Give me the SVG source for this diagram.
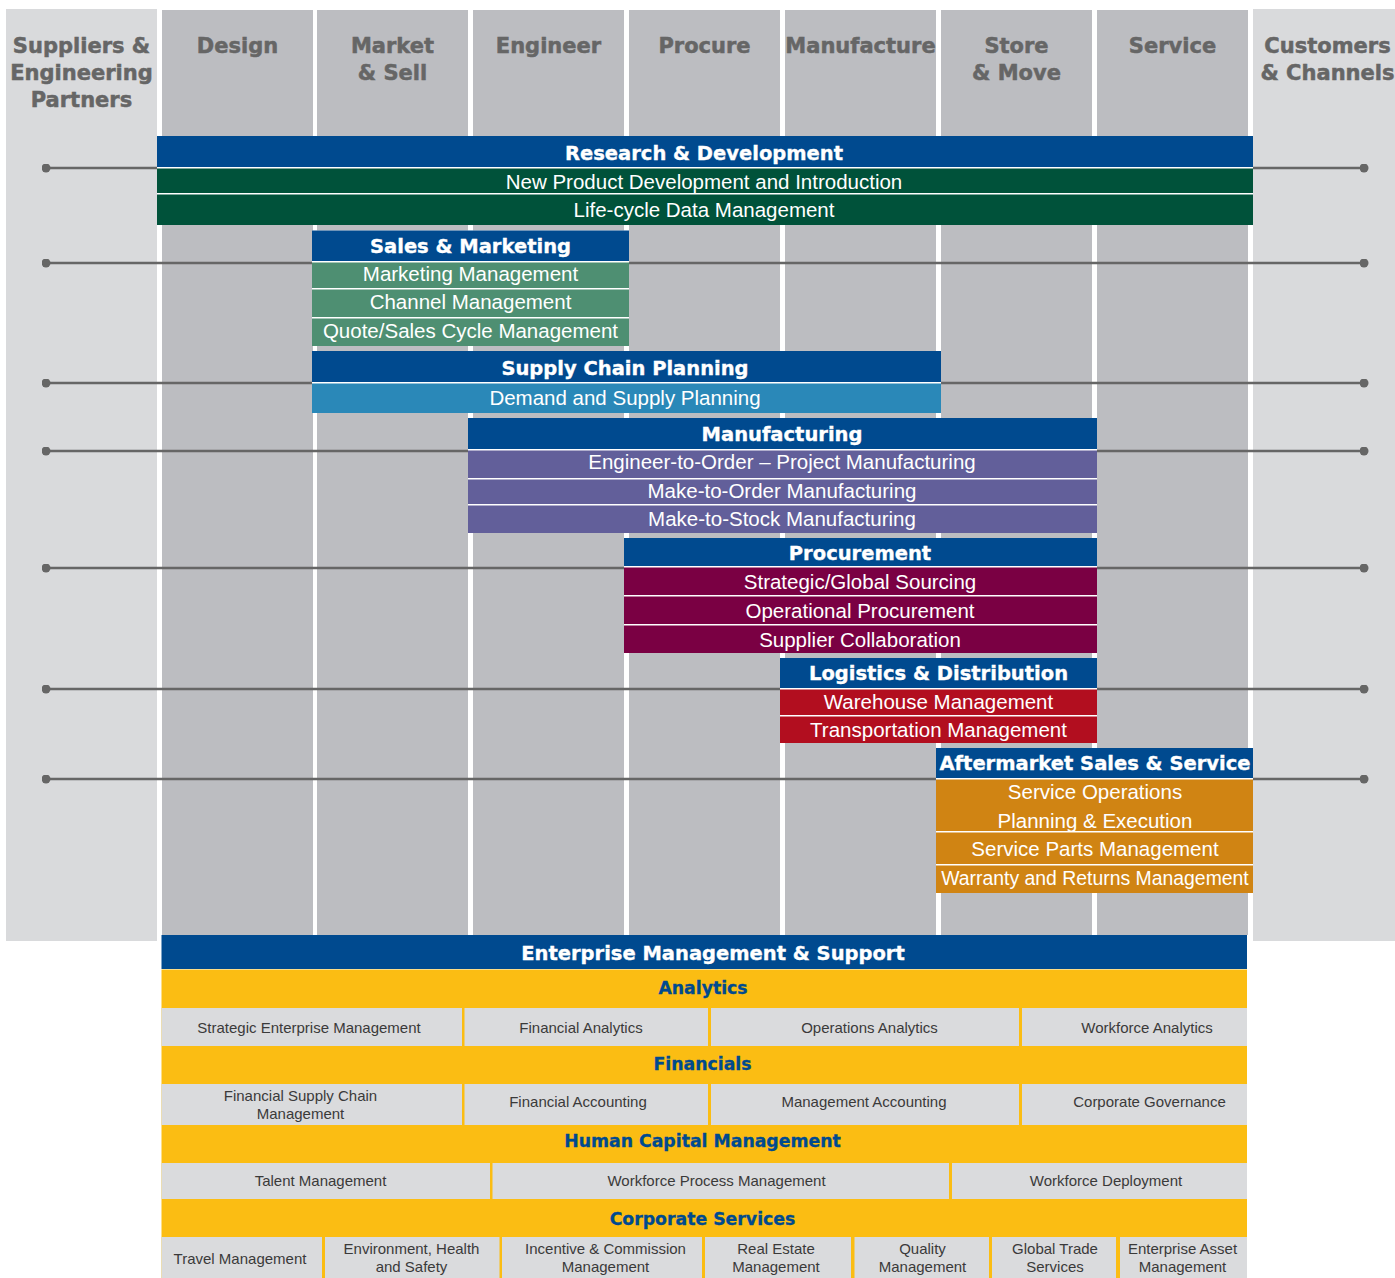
<svg xmlns="http://www.w3.org/2000/svg" width="1395" height="1278" viewBox="0 0 1395 1278">
<style>
.bg{fill:#ffffff}
.lcol{fill:#d9dadc}
.dcol{fill:#bcbdc1}
.colh{font-family:"DejaVu Sans",sans-serif;font-weight:bold;font-size:21px;fill:#666666;stroke:#666666;stroke-width:0.5;text-anchor:middle}
.hdr{fill:#004a8f}
.bh{font-family:"DejaVu Sans",sans-serif;font-weight:bold;font-size:19.5px;fill:#ffffff;stroke:#ffffff;stroke-width:0.35;text-anchor:middle}
.row{font-family:"Liberation Sans",Arial,sans-serif;font-size:20.5px;fill:#ffffff;text-anchor:middle}
.grn{fill:#00523a}
.sgrn{fill:#4e8f72}
.lblu{fill:#2a88b8}
.purp{fill:#625f9a}
.maro{fill:#7a0043}
.red{fill:#b20e1f}
.orng{fill:#d08413}
.yel{fill:#fbbd13}
.cellbg{fill:#dadbdd}
.yh{font-family:"DejaVu Sans",sans-serif;font-weight:bold;font-size:17.3px;fill:#004a8f;stroke:#004a8f;stroke-width:0.3;text-anchor:middle}
.cell{font-family:"Liberation Sans",Arial,sans-serif;font-size:15px;fill:#3a3a3a;text-anchor:middle}
.conn{stroke:#666666;stroke-width:2.6;fill:none;marker-start:url(#dot);marker-end:url(#dot)}
</style>
<defs>
<marker id="dot" viewBox="0 0 10 10" refX="5" refY="5" markerWidth="9" markerHeight="9" markerUnits="userSpaceOnUse"><circle cx="5" cy="5" r="5" fill="#666666"/></marker>
</defs>
<rect class="bg" x="0" y="0" width="1395" height="1278"/>

<g id="columns">
<g id="col-suppliers"><rect class="lcol" x="6" y="9" width="151" height="932"/>
<text class="colh" x="81.5" y="53">Suppliers &amp;</text><text class="colh" x="81.5" y="80">Engineering</text><text class="colh" x="81.5" y="107">Partners</text></g>
<g id="col-design"><rect class="dcol" x="162" y="10" width="151" height="925"/><text class="colh" x="237.5" y="53">Design</text></g>
<g id="col-market"><rect class="dcol" x="317" y="10" width="151" height="925"/><text class="colh" x="392.5" y="53">Market</text><text class="colh" x="392.5" y="80">&amp; Sell</text></g>
<g id="col-engineer"><rect class="dcol" x="473" y="10" width="151" height="925"/><text class="colh" x="548.5" y="53">Engineer</text></g>
<g id="col-procure"><rect class="dcol" x="629" y="10" width="151" height="925"/><text class="colh" x="704.5" y="53">Procure</text></g>
<g id="col-manufacture"><rect class="dcol" x="785" y="10" width="151" height="925"/><text class="colh" x="860.5" y="53">Manufacture</text></g>
<g id="col-store"><rect class="dcol" x="941" y="10" width="151" height="925"/><text class="colh" x="1016.5" y="53">Store</text><text class="colh" x="1016.5" y="80">&amp; Move</text></g>
<g id="col-service"><rect class="dcol" x="1097" y="10" width="151" height="925"/><text class="colh" x="1172.5" y="53">Service</text></g>
<g id="col-customers"><rect class="lcol" x="1253" y="9" width="142" height="932"/><text class="colh" x="1327.5" y="53">Customers</text><text class="colh" x="1327.5" y="80">&amp; Channels</text></g>
</g>

<g id="connectors">
<line class="conn" x1="46" y1="168" x2="1364" y2="168"/>
<line class="conn" x1="46" y1="263" x2="1364" y2="263"/>
<line class="conn" x1="46" y1="383" x2="1364" y2="383"/>
<line class="conn" x1="46" y1="451" x2="1364" y2="451"/>
<line class="conn" x1="46" y1="568" x2="1364" y2="568"/>
<line class="conn" x1="46" y1="689" x2="1364" y2="689"/>
<line class="conn" x1="46" y1="779" x2="1364" y2="779"/>
</g>

<g id="band-rd">
<rect class="bg" x="157" y="136" width="1096" height="89"/>
<rect class="hdr" x="157" y="136" width="1096" height="31"/>
<rect class="grn" x="157" y="168.5" width="1096" height="24.5"/>
<rect class="grn" x="157" y="194.5" width="1096" height="30.5"/>
<text class="bh" x="704" y="160">Research &amp; Development</text>
<text class="row" x="704" y="189">New Product Development and Introduction</text>
<text class="row" x="704" y="217">Life-cycle Data Management</text>
</g>

<g id="band-sales">
<rect class="bg" x="312" y="230.5" width="317" height="115.5"/>
<rect class="hdr" x="312" y="230.5" width="317" height="30.5"/>
<rect class="sgrn" x="312" y="262.5" width="317" height="25.5"/>
<rect class="sgrn" x="312" y="289.5" width="317" height="27.5"/>
<rect class="sgrn" x="312" y="318.5" width="317" height="27.5"/>
<text class="bh" x="470.5" y="253">Sales &amp; Marketing</text>
<text class="row" x="470.5" y="281">Marketing Management</text>
<text class="row" x="470.5" y="309">Channel Management</text>
<text class="row" x="470.5" y="338">Quote/Sales Cycle Management</text>
</g>

<g id="band-scp">
<rect class="bg" x="312" y="351" width="629" height="62"/>
<rect class="hdr" x="312" y="351" width="629" height="31"/>
<rect class="lblu" x="312" y="383.5" width="629" height="29.5"/>
<text class="bh" x="625" y="375">Supply Chain Planning</text>
<text class="row" x="625" y="405">Demand and Supply Planning</text>
</g>

<g id="band-mfg">
<rect class="bg" x="468" y="418" width="629" height="115"/>
<rect class="hdr" x="468" y="418" width="629" height="31"/>
<rect class="purp" x="468" y="450.5" width="629" height="27.5"/>
<rect class="purp" x="468" y="479.5" width="629" height="24.5"/>
<rect class="purp" x="468" y="505.5" width="629" height="27.5"/>
<text class="bh" x="782" y="441">Manufacturing</text>
<text class="row" x="782" y="469">Engineer-to-Order – Project Manufacturing</text>
<text class="row" x="782" y="497.5">Make-to-Order Manufacturing</text>
<text class="row" x="782" y="525.5">Make-to-Stock Manufacturing</text>
</g>

<g id="band-procurement">
<rect class="bg" x="624" y="538" width="473" height="115"/>
<rect class="hdr" x="624" y="538" width="473" height="28"/>
<rect class="maro" x="624" y="567.5" width="473" height="27.5"/>
<rect class="maro" x="624" y="596.5" width="473" height="27.5"/>
<rect class="maro" x="624" y="625.5" width="473" height="27.5"/>
<text class="bh" x="860" y="560">Procurement</text>
<text class="row" x="860" y="589">Strategic/Global Sourcing</text>
<text class="row" x="860" y="617.5">Operational Procurement</text>
<text class="row" x="860" y="646.5">Supplier Collaboration</text>
</g>

<g id="band-logistics">
<rect class="bg" x="780" y="658" width="317" height="85"/>
<rect class="hdr" x="780" y="658" width="317" height="30"/>
<rect class="red" x="780" y="689.5" width="317" height="25.5"/>
<rect class="red" x="780" y="716.5" width="317" height="26.5"/>
<text class="bh" x="938.5" y="680">Logistics &amp; Distribution</text>
<text class="row" x="938.5" y="709">Warehouse Management</text>
<text class="row" x="938.5" y="737">Transportation Management</text>
</g>

<g id="band-aftermarket">
<rect class="bg" x="936" y="748" width="317" height="145"/>
<rect class="hdr" x="936" y="748" width="317" height="30"/>
<rect class="orng" x="936" y="779.5" width="317" height="51.5"/>
<rect class="orng" x="936" y="832.5" width="317" height="31.5"/>
<rect class="orng" x="936" y="865.5" width="317" height="27.5"/>
<text class="bh" x="1095" y="770">Aftermarket Sales &amp; Service</text>
<text class="row" x="1095" y="799">Service Operations</text>
<text class="row" x="1095" y="827.5">Planning &amp; Execution</text>
<text class="row" x="1095" y="856">Service Parts Management</text>
<text class="row" x="1095" y="885" style="font-size:19.4px">Warranty and Returns Management</text>
</g>

<g id="enterprise">
<rect class="bg" x="161.5" y="935" width="1085.5" height="35"/>
<rect class="hdr" x="161.5" y="935" width="1085.5" height="34"/>
<text class="bh" x="713" y="960">Enterprise Management &amp; Support</text>
<rect class="yel" x="161.5" y="969.5" width="1085.5" height="308.5"/>
</g>

<g id="analytics">
<text class="yh" x="703" y="994">Analytics</text>
<rect class="cellbg" x="161.5" y="1008" width="300.5" height="38"/>
<rect class="cellbg" x="464.5" y="1008" width="243.5" height="38"/>
<rect class="cellbg" x="711" y="1008" width="308" height="38"/>
<rect class="cellbg" x="1022" y="1008" width="225" height="38"/>
<text class="cell" x="309" y="1033">Strategic Enterprise Management</text>
<text class="cell" x="581" y="1033">Financial Analytics</text>
<text class="cell" x="869.5" y="1033">Operations Analytics</text>
<text class="cell" x="1147" y="1033">Workforce Analytics</text>
</g>

<g id="financials">
<text class="yh" x="702.5" y="1070">Financials</text>
<rect class="cellbg" x="161.5" y="1084" width="300.5" height="41"/>
<rect class="cellbg" x="464.5" y="1084" width="243.5" height="41"/>
<rect class="cellbg" x="711" y="1084" width="308" height="41"/>
<rect class="cellbg" x="1022" y="1084" width="225" height="41"/>
<text class="cell" x="300.5" y="1101">Financial Supply Chain</text>
<text class="cell" x="300.5" y="1119">Management</text>
<text class="cell" x="578" y="1107">Financial Accounting</text>
<text class="cell" x="864" y="1107">Management Accounting</text>
<text class="cell" x="1149.5" y="1107">Corporate Governance</text>
</g>

<g id="hcm">
<text class="yh" x="702.5" y="1147">Human Capital Management</text>
<rect class="cellbg" x="161.5" y="1163" width="328.5" height="36"/>
<rect class="cellbg" x="492.5" y="1163" width="456.5" height="36"/>
<rect class="cellbg" x="952" y="1163" width="295" height="36"/>
<text class="cell" x="320.5" y="1186">Talent Management</text>
<text class="cell" x="716.5" y="1186">Workforce Process Management</text>
<text class="cell" x="1106" y="1186">Workforce Deployment</text>
</g>

<g id="corporate">
<text class="yh" x="702.5" y="1225">Corporate Services</text>
<rect class="cellbg" x="161.5" y="1237" width="160.5" height="41"/>
<rect class="cellbg" x="325" y="1237" width="174.5" height="41"/>
<rect class="cellbg" x="502" y="1237" width="200" height="41"/>
<rect class="cellbg" x="705" y="1237" width="146" height="41"/>
<rect class="cellbg" x="854.5" y="1237" width="134.5" height="41"/>
<rect class="cellbg" x="992" y="1237" width="124" height="41"/>
<rect class="cellbg" x="1120" y="1237" width="127" height="41"/>
<text class="cell" x="240" y="1264">Travel Management</text>
<text class="cell" x="411.5" y="1254">Environment, Health</text>
<text class="cell" x="411.5" y="1272">and Safety</text>
<text class="cell" x="605.5" y="1254">Incentive &amp; Commission</text>
<text class="cell" x="605.5" y="1272">Management</text>
<text class="cell" x="776" y="1254">Real Estate</text>
<text class="cell" x="776" y="1272">Management</text>
<text class="cell" x="922.5" y="1254">Quality</text>
<text class="cell" x="922.5" y="1272">Management</text>
<text class="cell" x="1055" y="1254">Global Trade</text>
<text class="cell" x="1055" y="1272">Services</text>
<text class="cell" x="1182.5" y="1254">Enterprise Asset</text>
<text class="cell" x="1182.5" y="1272">Management</text>
</g>
</svg>
